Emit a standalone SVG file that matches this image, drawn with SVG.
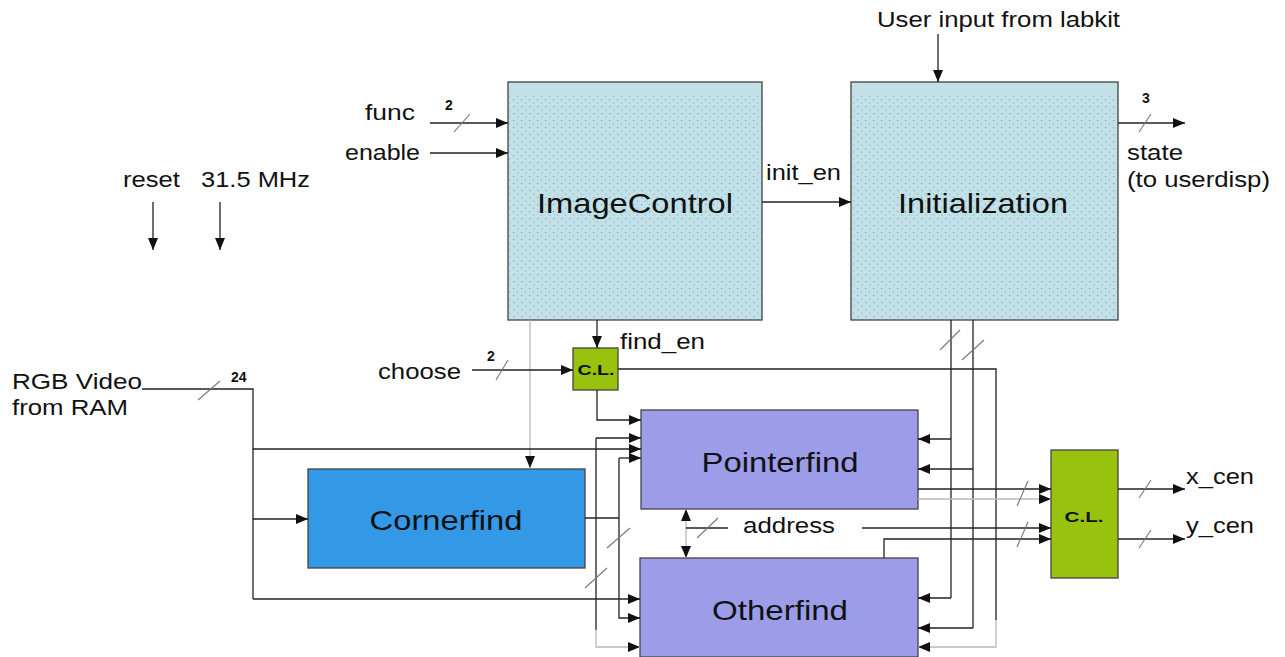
<svg xmlns="http://www.w3.org/2000/svg" width="1285" height="657" viewBox="0 0 1285 657">
  <defs>
    <pattern id="dots" width="8" height="7" patternUnits="userSpaceOnUse">
      <rect width="8" height="7" fill="#c2e0e5"/>
      <rect x="1" y="1" width="1.2" height="1.2" fill="#5fb0e6"/>
      <rect x="5" y="4.5" width="1.2" height="1.2" fill="#7cc0ea"/>
    </pattern>
    <marker id="ah" viewBox="0 0 12 10" refX="12" refY="5" markerWidth="12" markerHeight="10" markerUnits="userSpaceOnUse" orient="auto-start-reverse">
      <path d="M0,0 L12,5 L0,10 z" fill="#111"/>
    </marker>
  </defs>
  <style>
    .w { stroke:#222; stroke-width:1.3; fill:none; }
    .g { stroke:#b8b8b8; stroke-width:1.3; fill:none; }
    .s { stroke:#777; stroke-width:1.1; fill:none; }
    .a { marker-end:url(#ah); }
    .lbl { font-family:"Liberation Sans", Arial, sans-serif; font-size:22px; fill:#111; }
    .num { font-family:"Liberation Sans", Arial, sans-serif; font-size:14px; font-weight:bold; fill:#111; }
    .ttl { font-family:"Liberation Sans", Arial, sans-serif; font-size:28px; fill:#111; text-anchor:middle; }
    .cl { font-family:"Liberation Sans", Arial, sans-serif; font-size:15px; font-weight:bold; fill:#111; text-anchor:middle; }
    .box { stroke:#444; stroke-width:1.3; }
  </style>

  <rect width="1285" height="657" fill="#ffffff"/>

  <!-- free labels -->
  <text class="lbl" x="365" y="120" textLength="50" lengthAdjust="spacingAndGlyphs">func</text>
  <text class="lbl" x="345" y="160" textLength="75" lengthAdjust="spacingAndGlyphs">enable</text>
  <text class="lbl" x="123" y="187" textLength="57" lengthAdjust="spacingAndGlyphs">reset</text>
  <text class="lbl" x="201" y="187" textLength="109" lengthAdjust="spacingAndGlyphs">31.5 MHz</text>
  <text class="lbl" x="877" y="27" textLength="243" lengthAdjust="spacingAndGlyphs">User input from labkit</text>
  <text class="lbl" x="766" y="180" textLength="75" lengthAdjust="spacingAndGlyphs">init_en</text>
  <text class="lbl" x="1127" y="160" textLength="56" lengthAdjust="spacingAndGlyphs">state</text>
  <text class="lbl" x="1127" y="187" textLength="143" lengthAdjust="spacingAndGlyphs">(to userdisp)</text>
  <text class="lbl" x="620" y="349" textLength="85" lengthAdjust="spacingAndGlyphs">find_en</text>
  <text class="lbl" x="378" y="379" textLength="83" lengthAdjust="spacingAndGlyphs">choose</text>
  <text class="lbl" x="12" y="389" textLength="130" lengthAdjust="spacingAndGlyphs">RGB Video</text>
  <text class="lbl" x="12" y="415" textLength="116" lengthAdjust="spacingAndGlyphs">from RAM</text>
  <text class="lbl" x="743" y="533" textLength="92" lengthAdjust="spacingAndGlyphs">address</text>
  <text class="lbl" x="1186" y="484" textLength="68" lengthAdjust="spacingAndGlyphs">x_cen</text>
  <text class="lbl" x="1186" y="533" textLength="68" lengthAdjust="spacingAndGlyphs">y_cen</text>
  <text class="num" x="445" y="110">2</text>
  <text class="num" x="487" y="361">2</text>
  <text class="num" x="1142" y="103">3</text>
  <text class="num" x="231" y="382">24</text>

  <!-- nodes -->
  <g id="imagecontrol">
    <rect class="box" x="508" y="82" width="254" height="238" fill="url(#dots)"/>
    <rect x="509" y="83" width="252" height="12" fill="#c2e0e5"/>
    <text class="ttl" x="635" y="213" textLength="196" lengthAdjust="spacingAndGlyphs">ImageControl</text>
  </g>
  <g id="initialization">
    <rect class="box" x="851" y="82" width="267" height="238" fill="url(#dots)"/>
    <rect x="852" y="83" width="265" height="12" fill="#c2e0e5"/>
    <text class="ttl" x="983" y="213" textLength="170" lengthAdjust="spacingAndGlyphs">Initialization</text>
  </g>
  <g id="cl-small">
    <rect class="box" x="573" y="348" width="45" height="42" fill="#99c20f"/>
    <text class="cl" x="596" y="375" textLength="37" lengthAdjust="spacingAndGlyphs">C.L.</text>
  </g>
  <g id="pointerfind">
    <rect class="box" x="641" y="410" width="277" height="99" fill="#9c9ce8"/>
    <text class="ttl" x="780" y="472" textLength="157" lengthAdjust="spacingAndGlyphs">Pointerfind</text>
  </g>
  <g id="cornerfind">
    <rect class="box" x="308" y="469" width="277" height="99" fill="#3399e6"/>
    <text class="ttl" x="446" y="530" textLength="153" lengthAdjust="spacingAndGlyphs">Cornerfind</text>
  </g>
  <g id="otherfind">
    <rect class="box" x="640" y="558" width="278" height="99" fill="#9c9ce8"/>
    <text class="ttl" x="780" y="620" textLength="136" lengthAdjust="spacingAndGlyphs">Otherfind</text>
  </g>
  <g id="cl-large">
    <rect class="box" x="1051" y="450" width="67" height="128" fill="#99c20f"/>
    <text class="cl" x="1084" y="522" textLength="39" lengthAdjust="spacingAndGlyphs">C.L.</text>
  </g>

  <!-- connectors -->
  <g id="connectors">
    <!-- ImageControl inputs -->
    <path class="w a" d="M430,123 H508"/>
    <path class="s" d="M454,132 L470,114"/>
    <path class="w a" d="M430,153 H508"/>
    <!-- clock / reset -->
    <path class="w a" d="M153,202 V250"/>
    <path class="w a" d="M220,202 V250"/>
    <!-- user input -->
    <path class="w a" d="M938,34 V82"/>
    <!-- state output -->
    <path class="w a" d="M1118,123 H1185"/>
    <path class="s" d="M1139,132 L1151,114"/>
    <!-- init_en -->
    <path class="w a" d="M762,202 H851"/>
    <!-- find_en -->
    <path class="w a" d="M597,320 V348"/>
    <!-- ImageControl to Cornerfind -->
    <path class="g a" d="M530,320 V468"/>
    <!-- choose -->
    <path class="w a" d="M472,370 H573"/>
    <path class="s" d="M496,380 L508,360"/>
    <!-- small C.L. outputs -->
    <path class="w a" d="M597,390 V420 H641"/>
    <path class="w" d="M618,369 H996 V620"/>
    <path class="g a" d="M996,620 V647 H918"/>
    <!-- Initialization to finders -->
    <path class="w" d="M951,320 V598"/>
    <path class="w a" d="M951,439 H918"/>
    <path class="w a" d="M951,598 H918"/>
    <path class="w" d="M973,320 V628"/>
    <path class="w a" d="M973,469 H918"/>
    <path class="w a" d="M973,628 H918"/>
    <path class="s" d="M940,350 L960,330"/>
    <path class="s" d="M962,360 L984,340"/>
    <!-- RGB video -->
    <path class="w" d="M142,389 H253 V599"/>
    <path class="s" d="M198,400 L220,381"/>
    <path class="w a" d="M253,449 H641"/>
    <path class="w a" d="M253,519 H308"/>
    <path class="w a" d="M253,599 H640"/>
    <!-- Cornerfind outputs -->
    <path class="w" d="M585,518 H619"/>
    <path class="w a" d="M596,438 H641"/>
    <path class="w" d="M596,438 V630"/>
    <path class="g a" d="M596,630 V647 H640"/>
    <path class="w a" d="M619,458 H641"/>
    <path class="w a" d="M619,458 V618 H640"/>
    <path class="s" d="M607,548 L630,528"/>
    <path class="s" d="M585,588 L607,568"/>
    <!-- address bus -->
    <path class="g a" d="M686,532 V509"/>
    <path class="g a" d="M686,532 V558"/>
    <path class="w" d="M686,528 H728"/>
    <path class="s" d="M697,538 L718,518"/>
    <path class="w a" d="M862,528 H1051"/>
    <!-- finder outputs to large C.L. -->
    <path class="w a" d="M918,489 H1051"/>
    <path class="g a" d="M918,499 H1051"/>
    <path class="s" d="M1017,506 L1028,481"/>
    <path class="w a" d="M884,558 V539 H1051"/>
    <path class="s" d="M1017,547 L1028,522"/>
    <!-- large C.L. outputs -->
    <path class="w a" d="M1118,489 H1185"/>
    <path class="s" d="M1139,498 L1151,480"/>
    <path class="w a" d="M1118,539 H1185"/>
    <path class="s" d="M1139,548 L1151,530"/>
  </g>
</svg>
